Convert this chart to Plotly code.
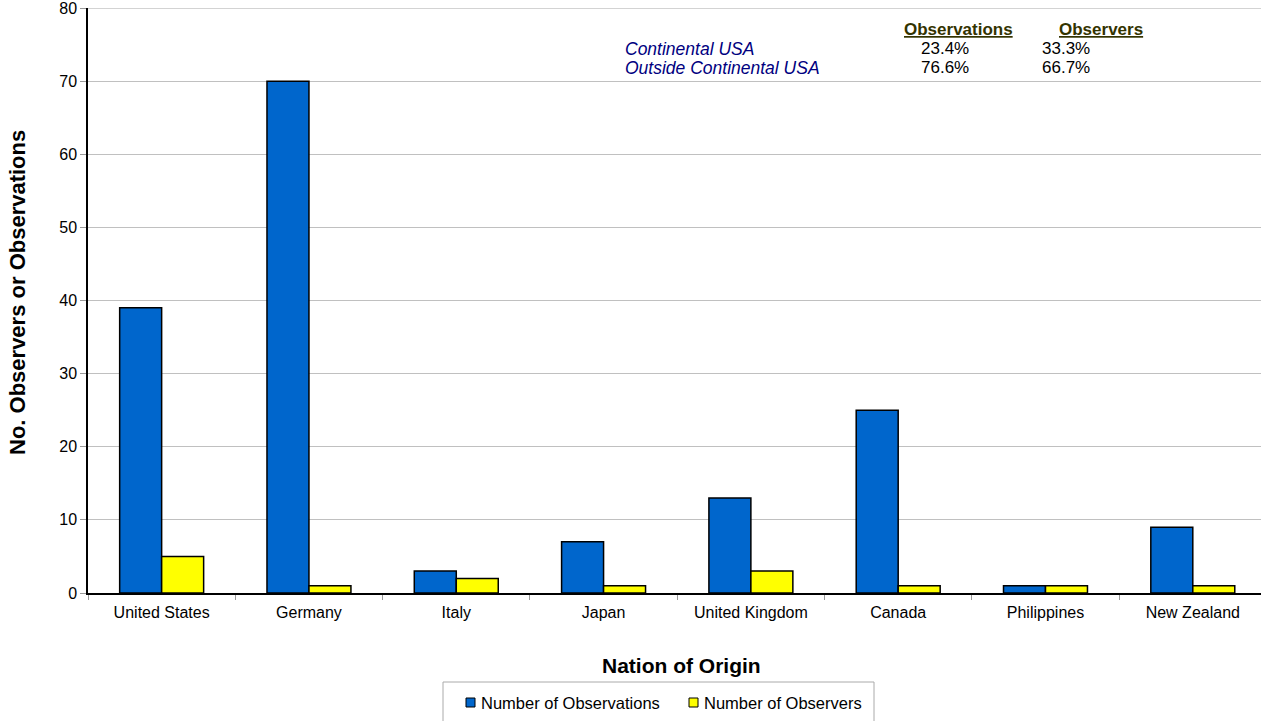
import plotly.graph_objects as go

nations = ["United States", "Germany", "Italy", "Japan", "United Kingdom",
           "Canada", "Philippines", "New Zealand"]
observations = [39, 70, 3, 7, 13, 25, 1, 9]
observers = [5, 1, 2, 1, 3, 1, 1, 1]

series_names = ["Number of Observations", "Number of Observers"]
series_colors = ["#0066CC", "#FFFF00"]

y_ticks = [0, 10, 20, 30, 40, 50, 60, 70, 80]

table_cols = ["Observations", "Observers"]
table_rows = ["Continental USA", "Outside Continental USA"]
table_obs = ["23.4%", "76.6%"]
table_obsr = ["33.3%", "66.7%"]

FONT = "Liberation Sans, Arial, sans-serif"
W, H = 1261, 721
L, T, B = 88, 8, 128
PW = W - L
PH = H - T - B


def px_x(px):
    return (px - L) / PW


def px_y(py):
    return (H - B - py) / PH


fig = go.Figure()
for vals, name, col in zip([observations, observers], series_names, series_colors):
    fig.add_trace(go.Bar(x=nations, y=vals, name=name, showlegend=False,
                         marker=dict(color=col, line=dict(color="black", width=1.5))))

fig.update_layout(
    width=W, height=H,
    margin=dict(l=L, r=0, t=T, b=B),
    paper_bgcolor="white", plot_bgcolor="white",
    barmode="group", bargap=0.43, bargroupgap=0,
    font=dict(family=FONT, size=16, color="black"),
    showlegend=False,
)

fig.update_xaxes(
    range=[-0.5, 7.463],
    showline=True, linecolor="black", linewidth=1.5,
    ticks="outside", tickson="boundaries", ticklen=5, tickcolor="#999999",
    ticklabelstandoff=4,
    tickfont=dict(size=16),
)
fig.update_yaxes(
    range=[0, 80], tickmode="array", tickvals=y_ticks,
    ticklabeloverflow="allow",
    showline=True, linecolor="black", linewidth=1.5,
    gridcolor="#C0C0C0", gridwidth=1,
    ticks="outside", ticklen=6, tickcolor="#999999",
    tickfont=dict(size=16), zeroline=False,
)

# Top gridline at the end of the value range
fig.add_shape(type="line", xref="paper", yref="y", x0=0, x1=1, y0=80, y1=80,
              line=dict(color="#A8A8A8", width=1), layer="below")

# Axis titles
fig.add_annotation(x=px_x(681), y=px_y(665), xref="paper", yref="paper",
                   text="<b>Nation of Origin</b>", showarrow=False,
                   font=dict(size=21), xanchor="center", yanchor="middle")
fig.add_annotation(x=px_x(17), y=px_y(293), xref="paper", yref="paper",
                   text="<b>No. Observers or Observations</b>", showarrow=False,
                   textangle=-90, font=dict(size=22), xanchor="center", yanchor="middle")

# Summary table in the upper right
hdr_col = "#333300"
for cx, label in zip([958, 1101], table_cols):
    fig.add_annotation(x=px_x(cx), y=px_y(30), xref="paper", yref="paper",
                       text=f"<b><u>{label}</u></b>", showarrow=False,
                       font=dict(size=17, color=hdr_col), xanchor="center", yanchor="middle")
for ry, label, v1, v2 in zip([49, 68], table_rows, table_obs, table_obsr):
    fig.add_annotation(x=px_x(623), y=px_y(ry), xref="paper", yref="paper",
                       text=f"<i>{label}</i>", showarrow=False,
                       font=dict(size=17.5, color="#000080"), xanchor="left", yanchor="middle")
    fig.add_annotation(x=px_x(945), y=px_y(ry), xref="paper", yref="paper",
                       text=v1, showarrow=False, font=dict(size=17),
                       xanchor="center", yanchor="middle")
    fig.add_annotation(x=px_x(1066), y=px_y(ry), xref="paper", yref="paper",
                       text=v2, showarrow=False, font=dict(size=17),
                       xanchor="center", yanchor="middle")

# Legend box with small square swatches
fig.add_shape(type="rect", xref="paper", yref="paper",
              x0=px_x(443), x1=px_x(874), y0=px_y(682), y1=px_y(724),
              line=dict(color="#AAAAAA", width=1), fillcolor="white", layer="above")
for sx, tx, name, col in zip([466, 689], [479, 702], series_names, series_colors):
    fig.add_shape(type="rect", xref="paper", yref="paper",
                  x0=px_x(sx), x1=px_x(sx + 9), y0=px_y(698), y1=px_y(707),
                  line=dict(color="black", width=1), fillcolor=col, layer="above")
    fig.add_annotation(x=px_x(tx), y=px_y(703), xref="paper", yref="paper",
                       text=name, showarrow=False, font=dict(size=16.5),
                       xanchor="left", yanchor="middle")

fig.write_html("out.html")
